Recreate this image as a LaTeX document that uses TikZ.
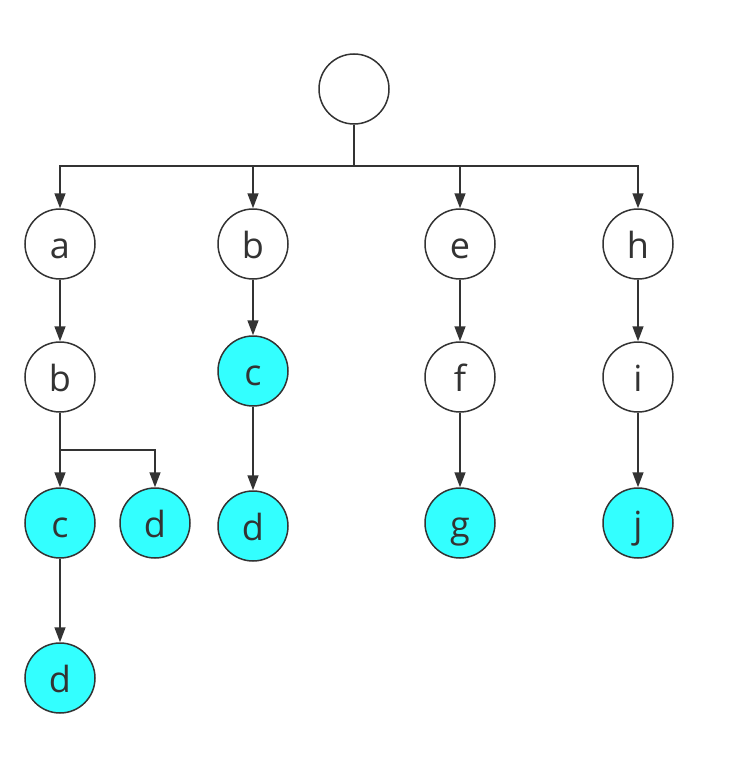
\documentclass[tikz,border=0pt]{standalone}
\usepackage{fontspec}
\setmainfont{Open Sans}
\usetikzlibrary{arrows.meta}
\definecolor{linec}{HTML}{333333}
\definecolor{cyanfill}{HTML}{33FFFF}
\tikzset{
  tnode/.style={circle, draw=linec, line width=1.5pt, minimum size=70pt, inner sep=0pt,
    text height=28pt, text depth=0pt,
    fill=white, text=linec, font=\fontsize{36}{42}\selectfont},
  leaf/.style={tnode, fill=cyanfill},
  conn/.style={draw=linec, line width=1.5pt},
  arr/.style={conn, -{Triangle[length=15pt,width=11pt]}}
}
\begin{document}
\begin{tikzpicture}[x=1pt,y=-1pt]
\useasboundingbox (0,0) rectangle (733,760);
\node[tnode] (root) at (354,89) {};
\node[tnode] (a1) at (60,244) {a};
\node[tnode] (b1) at (253,244) {b};
\node[tnode] (e1) at (460,244) {e};
\node[tnode] (h1) at (638,244) {h};
\node[tnode] (b2) at (60,377) {b};
\node[leaf]  (c2) at (253,371) {c};
\node[tnode] (f2) at (460,377) {f};
\node[tnode] (i2) at (638,377) {i};
\node[leaf]  (c3) at (60,523) {c};
\node[leaf]  (d3a) at (155,523) {d};
\node[leaf]  (d3b) at (253,526) {d};
\node[leaf]  (g3) at (460,523) {g};
\node[leaf]  (j3) at (638,523) {j};
\node[leaf]  (d4) at (60,678) {d};
\coordinate (bus) at (354,166);
\coordinate (br) at (60,450);
\draw[conn] (root) -- (bus);
\draw[arr] (bus) -| (a1);
\draw[arr] (bus) -| (b1);
\draw[arr] (bus) -| (e1);
\draw[arr] (bus) -| (h1);
\draw[arr] (a1) -- (b2);
\draw[arr] (b1) -- (c2);
\draw[arr] (e1) -- (f2);
\draw[arr] (h1) -- (i2);
\draw[arr] (b2) -- (c3);
\draw[arr] (br) -| (d3a);
\draw[arr] (c2) -- (d3b);
\draw[arr] (f2) -- (g3);
\draw[arr] (i2) -- (j3);
\draw[arr] (c3) -- (d4);
\end{tikzpicture}
\end{document}
